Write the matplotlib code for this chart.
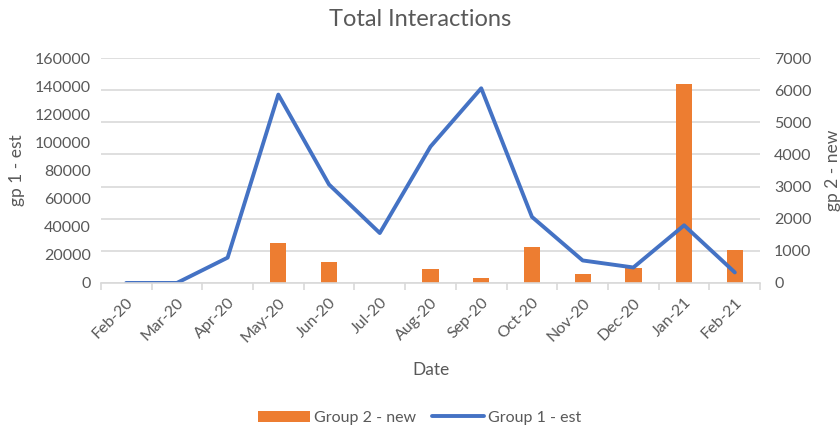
import numpy as np
import matplotlib.pyplot as plt
from matplotlib.ticker import FixedLocator

plt.rcParams['font.family'] = ['Lato', 'DejaVu Sans']

months = ["Feb-20", "Mar-20", "Apr-20", "May-20", "Jun-20", "Jul-20", "Aug-20",
          "Sep-20", "Oct-20", "Nov-20", "Dec-20", "Jan-21", "Feb-21"]
group1_est = [0, 0, 18000, 134000, 70000, 35500, 97000, 138500, 47000, 16000, 11000, 41000, 7500]
group2_new = [0, 0, 0, 1250, 660, 0, 420, 150, 1120, 270, 480, 6200, 1020]

txt = "#595959"
grid = "#d9d9d9"
x = np.arange(len(months))

fig = plt.figure(figsize=(8.4, 4.3), dpi=100)
ax = fig.add_axes([0.120, 0.342, 0.785, 0.523])
ax2 = ax.twinx()

# bars on secondary axis, line drawn on top
bars = ax2.bar(x, group2_new, width=0.32, color="#ED7D31", label="Group 2 - new", zorder=2)
line, = ax.plot(x, group1_est, color="#4472C4", lw=2.8, label="Group 1 - est",
                solid_joinstyle="round", solid_capstyle="round")
ax.set_zorder(ax2.get_zorder() + 1)
ax.patch.set_visible(False)

ax.set_ylim(0, 160000)
ax.set_yticks(np.arange(0, 160001, 20000))
ax2.set_ylim(0, 7000)
ax2.set_yticks(np.arange(0, 7001, 1000))
ax2.yaxis.grid(True, color=grid, lw=1.2)
ax2.set_axisbelow(True)

ax.set_xlim(-0.5, len(months) - 0.5)
ax.set_xticks(x)
ax.set_xticklabels(months, rotation=45, ha="right", rotation_mode="anchor")
ax.xaxis.set_minor_locator(FixedLocator(np.arange(-0.5, len(months), 1.0)))
ax.tick_params(axis="x", which="major", length=0, pad=9, labelsize=11.5, labelcolor=txt)
ax.tick_params(axis="x", which="minor", length=5, color=grid, width=1.2)
ax.tick_params(axis="y", length=0, labelsize=11.5, labelcolor=txt, pad=7)
ax2.tick_params(axis="y", length=0, labelsize=11.5, labelcolor=txt, pad=10)

for a in (ax, ax2):
    for s in ("top", "left", "right", "bottom"):
        a.spines[s].set_visible(False)
ax.spines["bottom"].set_visible(True)
ax.spines["bottom"].set_color(grid)
ax.spines["bottom"].set_linewidth(1.2)

ax.set_ylabel("gp 1 - est", fontsize=12.5, color=txt, labelpad=7)
ax2.set_ylabel("gp 2 - new", fontsize=12.5, color=txt, labelpad=10)
ax.set_xlabel("Date", fontsize=12.5, color=txt, labelpad=12)
fig.text(0.5, 0.955, "Total Interactions", ha="center", va="center", fontsize=17, color=txt)

fig.legend([bars, line], ["Group 2 - new", "Group 1 - est"], loc="center",
           bbox_to_anchor=(0.5, 0.028), ncol=2, frameon=False, fontsize=11.5,
           labelcolor=txt, handlelength=3.2, columnspacing=1.0, handletextpad=0.3)

fig.savefig("out.png", dpi=100)
